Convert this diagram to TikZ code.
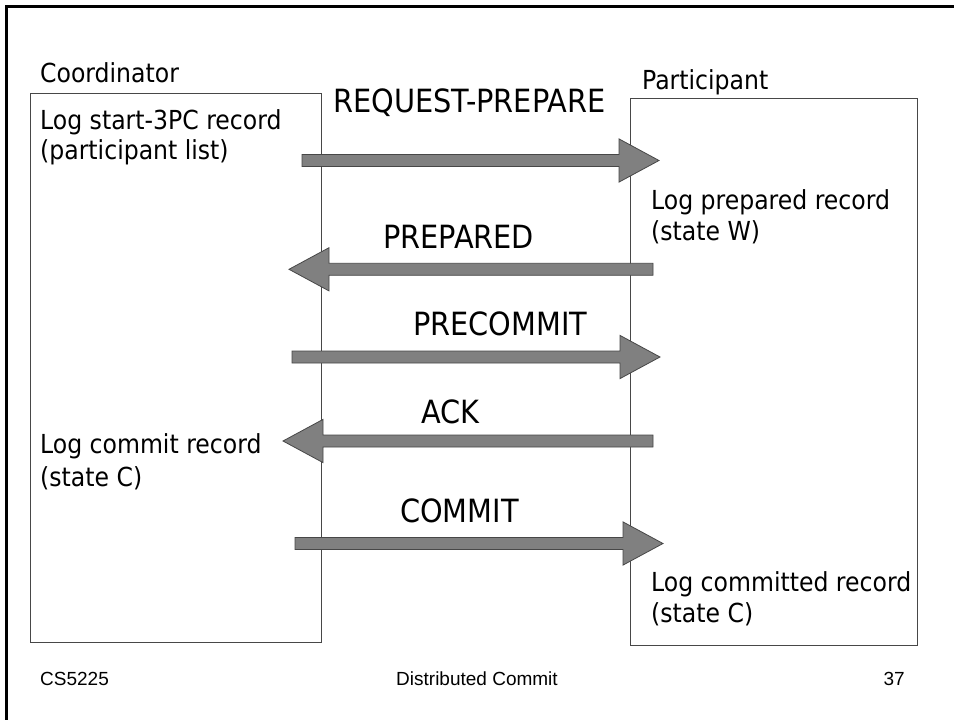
\documentclass[tikz,border=0pt]{standalone}
\usepackage{fontspec}
\usetikzlibrary{calc}
\newfontfamily\tah{DejaVu Sans Condensed}
\newfontfamily\ari{Liberation Sans}
\newcommand{\rfat}[2]{%
  \path[fat] let \p1=(#1), \p2=(#2) in
    (\x1,\y1+6pt) -- (\x2-40pt,\y1+6pt) -- (\x2-40pt,\y1+21.6pt) -- (\x2,\y1)
    -- (\x2-40pt,\y1-21.6pt) -- (\x2-40pt,\y1-6pt) -- (\x1,\y1-6pt) -- cycle;}
\newcommand{\lfat}[2]{%
  \path[fat] let \p1=(#1), \p2=(#2) in
    (\x1,\y1+6pt) -- (\x2+40pt,\y1+6pt) -- (\x2+40pt,\y1+21.6pt) -- (\x2,\y1)
    -- (\x2+40pt,\y1-21.6pt) -- (\x2+40pt,\y1-6pt) -- (\x1,\y1-6pt) -- cycle;}
\begin{document}
\begin{tikzpicture}[x=1pt,y=-1pt,
  lbl/.style={font=\tah\fontsize{26.2}{31}\selectfont, inner sep=0, anchor=base west},
  msg/.style={font=\tah\fontsize{32}{37}\selectfont, inner sep=0, anchor=base west},
  foot/.style={font=\ari\fontsize{19}{22}\selectfont, inner sep=0, anchor=base west},
  lane/.style={draw=black!72, line width=1.2pt, fill=white, inner sep=0, anchor=north west},
  fat/.style={fill=black!50, draw=black!72, line width=0.8pt}]
\useasboundingbox (0,0) rectangle (954,720);
\fill[white] (0,0) rectangle (954,720);
\draw[line width=3pt] (6.5,720) -- (6.5,6.5) -- (954,6.5);
% lanes
\node[lane, minimum width=291, minimum height=549] (coord) at (30,93) {};
\node[lane, minimum width=287, minimum height=547] (part) at (630,98) {};
% headings
\node[lbl] (tcoord) at (40,82) {Coordinator};
\node[lbl] (tpart) at (642,89) {Participant};
% left texts
\node[lbl] (c1a) at (40,129) {Log start-3PC record};
\node[lbl] (c1b) at (40,159) {(participant list)};
\node[lbl] (c2a) at (40,453) {Log commit record};
\node[lbl] (c2b) at (40,486) {(state C)};
% right texts
\node[lbl] (p1a) at (651,209) {Log prepared record};
\node[lbl] (p1b) at (651,240) {(state W)};
\node[lbl] (p2a) at (651,591) {Log committed record};
\node[lbl] (p2b) at (651,622) {(state C)};
% message labels
\node[msg] (m1) at (333,112) {REQUEST-PREPARE};
\node[msg] (m2) at (383,248) {PREPARED};
\node[msg] (m3) at (413,335) {PRECOMMIT};
\node[msg] (m4) at (421,423) {ACK};
\node[msg] (m5) at (400,522) {COMMIT};
% arrows
\coordinate (a1s) at (302,160.5); \coordinate (a1e) at (659,160.5);
\coordinate (a2s) at (653,269.3); \coordinate (a2e) at (289,269.3);
\coordinate (a3s) at (292,357);   \coordinate (a3e) at (660,357);
\coordinate (a4s) at (653,441);   \coordinate (a4e) at (283,441);
\coordinate (a5s) at (295,543.5); \coordinate (a5e) at (663,543.5);
\rfat{a1s}{a1e}
\lfat{a2s}{a2e}
\rfat{a3s}{a3e}
\lfat{a4s}{a4e}
\rfat{a5s}{a5e}
% footer
\node[foot] (f1) at (40,685) {CS5225};
\node[foot, anchor=base] (f2) at (477,685) {Distributed Commit};
\node[foot, anchor=base east] (f3) at (905,685) {37};
\end{tikzpicture}
\end{document}
